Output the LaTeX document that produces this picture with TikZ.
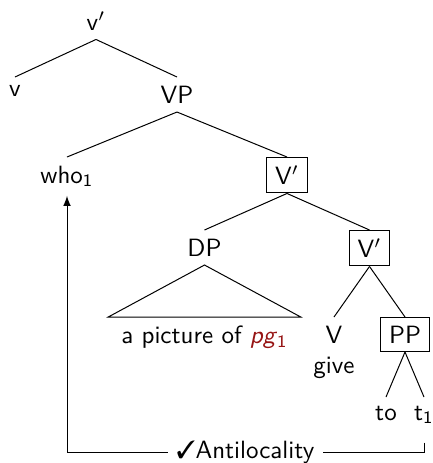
\documentclass[tikz,border=0pt]{standalone}
\usepackage{amsmath}
\usepackage{pifont}
\usepackage[dvipsnames]{xcolor}
\usepackage{tikz}
\renewcommand{\familydefault}{\sfdefault}
\definecolor{pgred}{RGB}{150,20,20}

\begin{document}
\begin{tikzpicture}
[
    every node/.style = {anchor = north},
    growth parent anchor = north,
    parent anchor = south, child anchor = north,
    level 1/.style = {sibling distance = 64.8pt, level distance = 29.6pt},
    level 2/.style = {sibling distance = 88pt, level distance = 32pt},
    level 3/.style = {sibling distance = 66pt, level distance = 29.2pt},
    level 4/.style = {sibling distance = 28.4pt, level distance = 34.8pt},
    level 5/.style = {sibling distance = 15.2pt, level distance = 32pt},
    boxed/.style = {draw},
    roof/.style = {edge from parent path = {(\tikzparentnode.south) -- (\tikzchildnode.north west) -- (\tikzchildnode.north east) -- cycle}},
]
\useasboundingbox (-38.4pt,1.2pt) rectangle (134.8pt,-184pt);
\node (vbar) {v$'$}
    child{node (v) {v}}
    child{node (VP) {VP}
        child{node (who) {who$_{\mathsf{1}}$}}
        child{node[boxed] (Vbar) {V$'$}
            child{node (DP) {DP}
                child[roof]{node[inner xsep=5pt] (pic) {a picture of {\color{pgred}\textsl{pg}$_{\mathsf{1}}$}}}
            }
            child{node[boxed] (Vbarr) {V$'$}
                child{node[align=center] (V) {V\\give}}
                child{node[boxed] (PP) {PP}
                    child{node (to) {to}}
                    child{node (t1) {t$_{\mathsf{1}}$}}
                }
            }
        }
    };
% antilocality path
\coordinate (base) at (0,-179.6pt);
\draw[-latex, shorten <=4pt] (t1.south) -- (t1.south |- base)
    -| node[pos=0.25, anchor=center, fill=white] {\ding{51}Antilocality} (who.south);
\end{tikzpicture}
\end{document}
